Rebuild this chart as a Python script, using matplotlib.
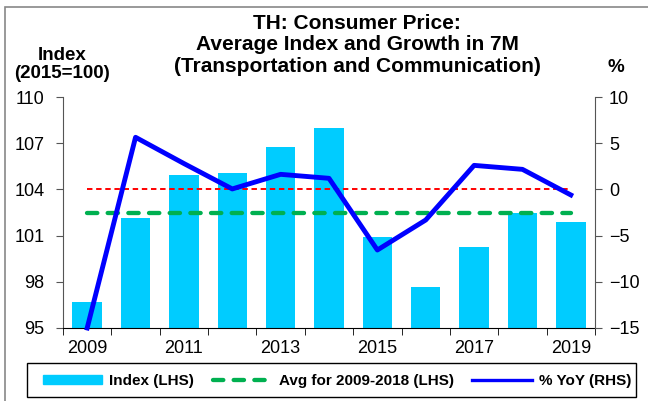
import numpy as np
import matplotlib.pyplot as plt
from matplotlib.patches import Rectangle
from matplotlib.lines import Line2D

plt.rcParams['font.family'] = ['Liberation Sans', 'DejaVu Sans']

# Datos: índice promedio (2015=100) y crecimiento % anual, 7 meses
years = [2009, 2010, 2011, 2012, 2013, 2014, 2015, 2016, 2017, 2018, 2019]
index_vals = [96.67, 102.12, 104.93, 105.06, 106.75, 107.99, 100.93, 97.66, 100.26, 102.45, 101.9]
yoy_vals = [-15.0, 5.64, 2.8, 0.05, 1.63, 1.2, -6.56, -3.31, 2.6, 2.17, -0.6]
year_labels = ['2009', '2011', '2013', '2015', '2017', '2019']

# Promedio 2009-2018
avg_0918 = np.mean(index_vals[:10])

x = np.arange(len(years))
W, H = 648, 401

fig = plt.figure(figsize=(W / 100, H / 100), dpi=100)
ax = fig.add_axes([63 / W, 1 - 328 / H, 532 / W, 231 / H])
ax2 = ax.twinx()

ax.bar(x, index_vals, width=0.61, color='#00CCFF', zorder=2)
ax.plot([x[0], x[-1]], [avg_0918, avg_0918], color='#00B050', lw=3.1,
        dashes=(2.4, 2.4), dash_capstyle='round', zorder=3)

ax2.plot([x[0], x[-1]], [0, 0], color='#FF0000', lw=1.4, dashes=(2.8, 1.9), zorder=3)
ax2.plot(x, yoy_vals, color='#0000FF', lw=3.5, zorder=4, clip_on=False)

ax.set_xlim(-0.5, len(years) - 0.5)
ax.set_ylim(95, 110)
ax.set_yticks([95, 98, 101, 104, 107, 110])
ax2.set_ylim(-15, 10)
ax2.set_yticks([-15, -10, -5, 0, 5, 10])

ax.set_xticks(x[::2])
ax.set_xticklabels(year_labels)
ax.set_xticks(np.arange(-0.5, len(years), 1), minor=True)
ax.tick_params(axis='x', which='major', length=0, labelsize=13, pad=8.5)
ax.tick_params(axis='x', which='minor', length=5, direction='out', color='black')
ax.tick_params(axis='y', length=5, labelsize=13, pad=8.5, color='#555555')
ax2.tick_params(axis='y', length=5, labelsize=13, pad=5, color='#555555')

for a in (ax, ax2):
    a.spines['top'].set_visible(False)
ax.spines['right'].set_visible(False)
ax2.spines['left'].set_visible(False)
ax2.spines['bottom'].set_visible(False)
ax.spines['left'].set_color('#555555')
ax2.spines['right'].set_color('#555555')
ax.spines['bottom'].set_color('black')

# Títulos
title_lines = ['TH: Consumer Price:', 'Average Index and Growth in 7M',
               '(Transportation and Communication)']
for line, base in zip(title_lines, [29, 50.5, 72]):
    fig.text(357 / W, 1 - base / H, line, ha='center', va='baseline',
             fontsize=15, fontweight='bold')
fig.text(62 / W, 1 - 60 / H, 'Index', ha='center', va='baseline',
         fontsize=13.5, fontweight='bold')
fig.text(62 / W, 1 - 78 / H, '(2015=100)', ha='center', va='baseline',
         fontsize=13.5, fontweight='bold')
fig.text(616 / W, 1 - 72 / H, '%', ha='center', va='baseline',
         fontsize=13.5, fontweight='bold')

# Marco exterior
fig.patches.append(Rectangle((5 / W, -0.02), 1.1, 1.02 - 7 / H, transform=fig.transFigure,
                             fill=False, edgecolor='#888888', lw=1.2))
# Marco de la leyenda
fig.patches.append(Rectangle((27 / W, 1 - 397 / H), 609 / W, 34 / H, transform=fig.transFigure,
                             fill=False, edgecolor='black', lw=1.0, zorder=5))

handles = [
    Rectangle((0, 0), 1, 1, color='#00CCFF'),
    Line2D([], [], color='#00B050', lw=3.1, dashes=(2.4, 2.4), dash_capstyle='round'),
    Line2D([], [], color='#0000FF', lw=2.4),
]
labels = ['Index (LHS)', 'Avg for 2009-2018 (LHS)', '% YoY (RHS)']
fig.legend(handles, labels, loc='center', bbox_to_anchor=(337 / W, 1 - 381 / H),
           ncol=3, frameon=False, handlelength=3.9, handleheight=0.5,
           handletextpad=0.45, columnspacing=1.2, borderaxespad=0,
           prop={'weight': 'bold', 'size': 11})

fig.savefig('out.png', dpi=100)
